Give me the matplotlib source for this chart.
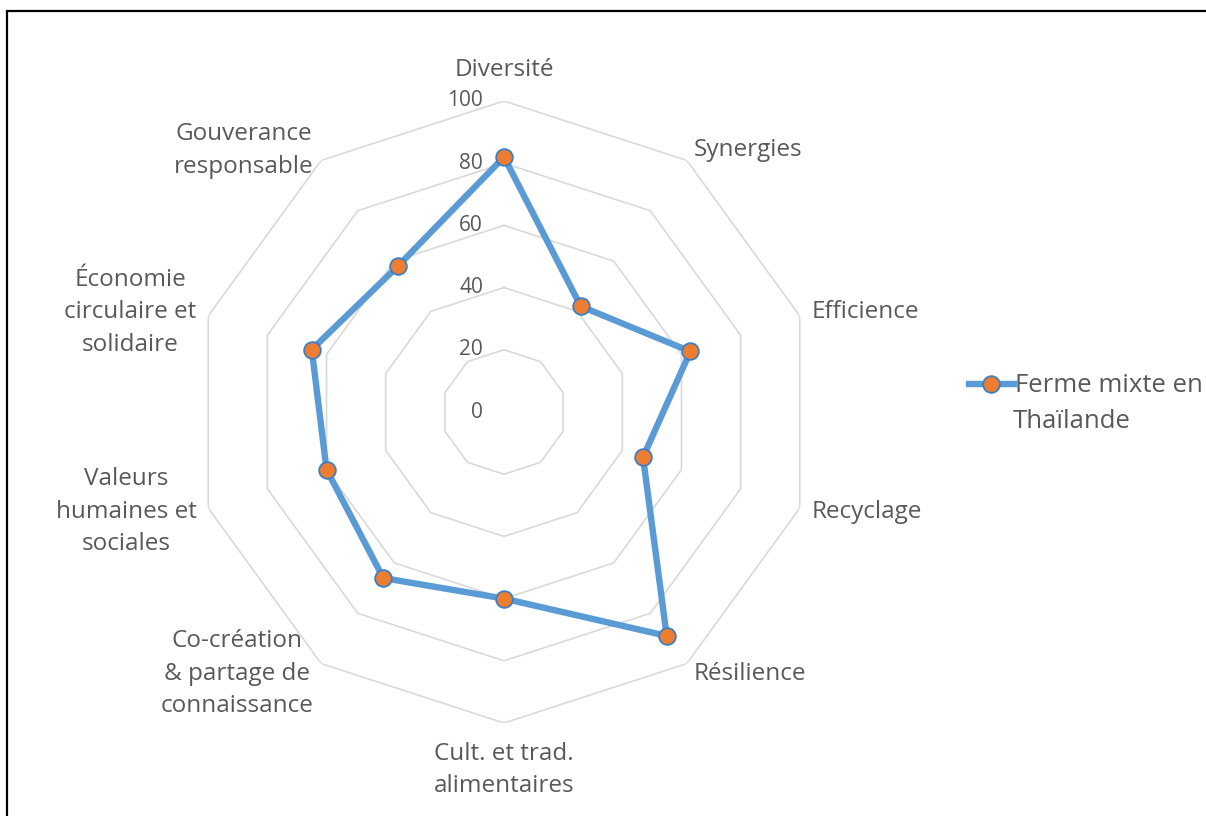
import numpy as np
import matplotlib.pyplot as plt
from matplotlib.lines import Line2D
from matplotlib.patches import Rectangle
from matplotlib.transforms import offset_copy

plt.rcParams['font.family'] = ['Open Sans', 'DejaVu Sans']

categories = ['Diversité', 'Synergies', 'Efficience', 'Recyclage', 'Résilience',
              'Cult. et trad.\nalimentaires', 'Co-création\n& partage de\nconnaissance',
              'Valeurs\nhumaines et\nsociales', 'Économie\ncirculaire et\nsolidaire',
              'Gouverance\nresponsable']
values = [82, 42, 63, 47, 89, 60, 66, 60, 65, 58]
ticks = [0, 20, 40, 60, 80, 100]
series_name = ['Ferme mixte en', 'Thaïlande']

TEXT = '#595959'
GRID = '#d9d9d9'
LINE = '#5b9bd5'
MARK = '#ed7d31'
EDGE = '#3c7fc4'

W, H = 1206, 816
fig = plt.figure(figsize=(W / 100, H / 100), dpi=100)
cx, cy, R = 504, 412, 311
ax = fig.add_axes([(cx - R) / W, (H - cy - R) / H, 2 * R / W, 2 * R / H], projection='polar')
ax.set_theta_zero_location('N')
ax.set_theta_direction(-1)
ax.set_ylim(0, 100)
ax.grid(False)
ax.spines['polar'].set_visible(False)
ax.set_xticks([])
ax.set_yticks([])
ax.patch.set_alpha(0)

n = len(categories)
ang = np.arange(n) * 2 * np.pi / n
ring_ang = np.append(ang, ang[0])

# decagon rings
for t in ticks[1:]:
    ax.plot(ring_ang, [t] * (n + 1), color=GRID, lw=1.2, zorder=1)

# tick labels
tr = offset_copy(ax.transData, fig=fig, x=-21, y=0, units='dots')
for t in ticks:
    ax.text(0, t, str(t), transform=tr, ha='right', va='center', fontsize=15, color=TEXT)

# data line
vals = values + values[:1]
ax.plot(ring_ang, vals, color=LINE, lw=4.6, zorder=3, solid_joinstyle='round')
ax.plot(ang, values, ls='none', marker='o', ms=12, mfc=MARK, mec=EDGE, mew=1.3, zorder=4)

# category labels
for a, lab in zip(ang, categories):
    s, c = np.sin(a), np.cos(a)
    if abs(s) < 0.01:
        ha = 'center'
        va = 'bottom' if c > 0 else 'top'
        r = 106
    else:
        ha = 'left' if s > 0 else 'right'
        va = 'center'
        r = 104
    ax.text(a, r, lab, ha=ha, va=va, multialignment='center', fontsize=17.5,
            color=TEXT, linespacing=1.47)

# legend
h = Line2D([], [], color=LINE, lw=4.6, marker='o', ms=12, mfc=MARK, mec=EDGE, mew=1.3)
fig.legend([h], [series_name[0]], loc='center left', bbox_to_anchor=(969 / W, 1 - 386 / H),
           frameon=False, fontsize=18.5, labelcolor=TEXT, handlelength=1.75,
           handletextpad=0.05, borderpad=0, borderaxespad=0)
fig.text(1013 / W, 1 - 421 / H, series_name[1], ha='left', va='center',
         fontsize=18.5, color=TEXT)

fig.add_artist(Rectangle((7 / W, -0.1), 1.2, 0.1 + 1 - 11 / H, transform=fig.transFigure,
                         fill=False, ec='black', lw=1.6))

fig.savefig('out.png', dpi=100)
